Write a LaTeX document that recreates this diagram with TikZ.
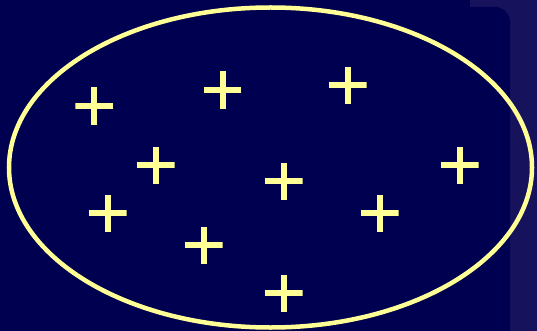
\documentclass[tikz,border=0pt]{standalone}
\usetikzlibrary{shapes.geometric}
\definecolor{navy}{RGB}{0,0,80}
\definecolor{navyshade}{RGB}{22,18,92}
\definecolor{paleyellow}{RGB}{255,255,150}
\tikzset{
  plusmark/.style={minimum size=37.5pt, inner sep=0pt,
    path picture={
      \fill[paleyellow] ([xshift=-3pt]path picture bounding box.north) rectangle ([xshift=3pt]path picture bounding box.south);
      \fill[paleyellow] ([yshift=3pt]path picture bounding box.west) rectangle ([yshift=-3pt]path picture bounding box.east);
    }},
  setline/.style={draw=paleyellow, line width=4.5pt}
}
\begin{document}
\begin{tikzpicture}[x=1pt,y=-1pt]
\useasboundingbox (0,0) rectangle (537,331);
\fill[navyshade] (0,0) rectangle (537,331);
\fill[navy, rounded corners=15pt] (-20,7) rectangle (510,360);
\fill[navy] (-20,-10) rectangle (470,20);
\node[setline, ellipse, minimum width=523pt, minimum height=320pt, inner sep=0pt] (set) at (270.5,167.5) {};
\node[plusmark] (p1) at (94.2,106) {};
\node[plusmark] (p2) at (222.6,90) {};
\node[plusmark] (p3) at (347.9,85.3) {};
\node[plusmark] (p4) at (155.8,165.3) {};
\node[plusmark] (p5) at (283.9,181.3) {};
\node[plusmark] (p6) at (459.9,165.3) {};
\node[plusmark] (p7) at (107.9,213.3) {};
\node[plusmark] (p8) at (379.8,213.3) {};
\node[plusmark] (p9) at (203.8,245.3) {};
\node[plusmark] (p10) at (283.9,293.3) {};
\end{tikzpicture}
\end{document}
